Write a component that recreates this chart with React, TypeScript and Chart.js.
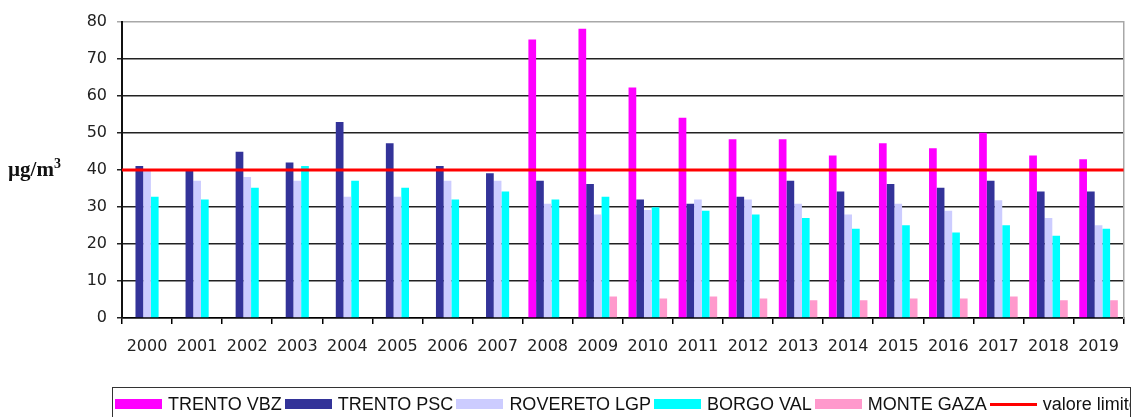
import React, { useEffect, useRef } from "react";
import { Chart, registerables } from "chart.js";

Chart.register(...registerables);

const years = ["2000","2001","2002","2003","2004","2005","2006","2007","2008","2009","2010","2011","2012","2013","2014","2015","2016","2017","2018","2019"];
const trentoVBZ = [null,null,null,null,null,null,null,null,75.3,78.2,62.3,54.1,48.3,48.3,43.9,47.2,45.9,50.1,43.9,42.9];
const trentoPSC = [41.1,40.1,44.9,42,53,47.2,41.1,39.1,37.1,36.2,32,30.9,32.8,37.1,34.2,36.2,35.2,37.1,34.2,34.2];
const roveretoLGP = [40,37.1,38.1,37.1,32.8,32.8,37.1,37.1,30.9,28,29.2,32,32,30.9,28,30.9,29,31.8,27,25.1];
const borgoVal = [32.8,32,35.2,41.1,37.1,35.2,32,34.2,32,32.8,29.9,29,28,27,24.1,25.1,23.1,25.1,22.2,24.1];
const monteGaza = [null,null,null,null,null,null,null,null,null,5.8,5.3,5.8,5.3,4.8,4.8,5.3,5.3,5.8,4.8,4.8];
const valoreLimite = 40;
const yTicks = { min: 0, max: 80, step: 10 };

const series = [
  { label: "TRENTO VBZ", data: trentoVBZ, color: "#FF00FF" },
  { label: "TRENTO PSC", data: trentoPSC, color: "#333399" },
  { label: "ROVERETO LGP", data: roveretoLGP, color: "#CCCCFF" },
  { label: "BORGO VAL", data: borgoVal, color: "#00FFFF" },
  { label: "MONTE GAZA", data: monteGaza, color: "#FF99CC" },
];
const limitLabel = "valore limite";
const limitColor = "#FF0000";

const limitLinePlugin = {
  id: "limitLine",
  afterDatasetsDraw(chart: any) {
    const y = chart.scales.y;
    const area = chart.chartArea;
    const py = y.getPixelForValue(valoreLimite);
    const ctx = chart.ctx;
    ctx.save();
    ctx.strokeStyle = limitColor;
    ctx.lineWidth = 3;
    ctx.beginPath();
    ctx.moveTo(area.left, py);
    ctx.lineTo(area.right, py);
    ctx.stroke();
    ctx.restore();
  },
};

export default function App() {
  const ref = useRef<HTMLCanvasElement | null>(null);
  useEffect(() => {
    if (!ref.current) return;
    const datasets: any[] = series.map((s) => ({
      label: s.label,
      data: s.data.slice(),
      backgroundColor: s.color,
      borderWidth: 0,
    }));
    const chart = new Chart(ref.current, {
      type: "bar",
      data: { labels: years, datasets },
      plugins: [limitLinePlugin],
      options: {
        animation: false,
        responsive: false,
        devicePixelRatio: 1,
        datasets: { bar: { categoryPercentage: 0.77, barPercentage: 1 } },
        layout: { padding: { left: 0, right: 0, top: 22, bottom: 0 } },
        plugins: { legend: { display: false }, tooltip: { enabled: false } },
        scales: {
          x: {
            grid: { display: true, drawOnChartArea: false, drawTicks: true, tickLength: 6, color: "#000", offset: true, lineWidth: 1.5 },
            border: { display: true, color: "#000", width: 1.5 },
            ticks: { color: "#222", font: { family: "DejaVu Sans", size: 16 }, padding: 13, maxRotation: 0, autoSkip: false },
            afterFit: (s: any) => { s.height = 99; },
          },
          y: {
            min: yTicks.min,
            max: yTicks.max,
            ticks: { stepSize: yTicks.step, color: "#222", font: { family: "DejaVu Sans", size: 16 }, padding: 10 },
            grid: {
              color: (c: any) => (c.tick && c.tick.value === yTicks.max ? "#a8a8a8" : "#222"),
              lineWidth: 1.5,
              tickLength: 5,
            },
            border: { display: true, color: "#111", width: 2 },
            afterFit: (s: any) => { s.width = 122; },
          },
          y2: {
            position: "right",
            min: yTicks.min,
            max: yTicks.max,
            ticks: { display: false },
            grid: { display: false },
            border: { display: true, color: "#a8a8a8", width: 1.5 },
            afterFit: (s: any) => { s.width = 4; },
          },
        },
      } as any,
    });
    return () => chart.destroy();
  }, []);

  const legendItems = [
    ...series.map((s) => ({ label: s.label, color: s.color, line: false })),
    { label: limitLabel, color: limitColor, line: true },
  ];

  return (
    <div style={{ position: "fixed", left: 0, top: 0, width: 1132, height: 417, background: "#fff", overflow: "hidden" }}>
      <canvas ref={ref} width={1132} height={417} style={{ position: "absolute", left: 0, top: 0 }} />
      <div
        style={{
          position: "absolute",
          left: 8,
          top: 157,
          fontFamily: "'Liberation Serif', 'Times New Roman', serif",
          fontWeight: "bold",
          fontSize: 21,
          color: "#111",
          whiteSpace: "nowrap",
          lineHeight: "24px",
        }}
      >
        µg/m<sup style={{ fontSize: 14, verticalAlign: "top", position: "relative", top: -5 }}>3</sup>
      </div>
      <div
        style={{
          position: "absolute",
          left: 112,
          top: 387,
          width: 1019,
          height: 40,
          border: "1.5px solid #333",
          boxSizing: "border-box",
          display: "flex",
          alignItems: "flex-start",
          paddingLeft: 2,
          paddingTop: 5,
          fontFamily: "'Liberation Sans', Arial, sans-serif",
          fontSize: 18,
          color: "#111",
          whiteSpace: "nowrap",
          overflow: "hidden",
        }}
      >
        {legendItems.map((it) => (
          <div key={it.label} style={{ display: "flex", alignItems: "center", marginRight: 3, height: 22, flexShrink: 0 }}>
            <div
              style={{
                width: 47,
                height: it.line ? 3 : 10,
                background: it.color,
                marginRight: 6,
                flexShrink: 0,
              }}
            />
            <span style={{ display: "inline-block" }}>{it.label}</span>
          </div>
        ))}
      </div>
    </div>
  );
}
